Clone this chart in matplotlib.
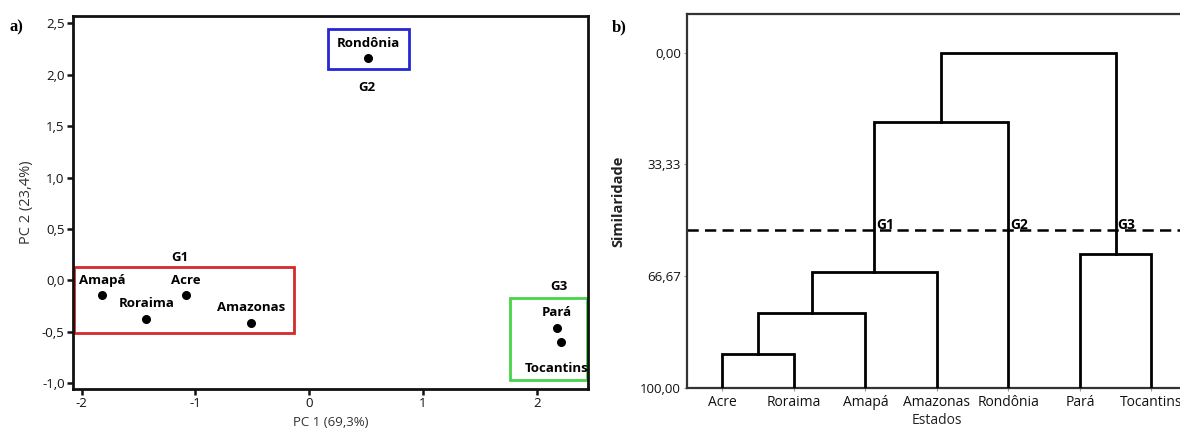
import matplotlib
matplotlib.use("Agg")
import matplotlib.pyplot as plt
from matplotlib.patches import Rectangle

# ---------------- data ----------------
# PCA scores (panel a)
states = ["Rondônia", "Amapá", "Acre", "Roraima", "Amazonas", "Pará", "Tocantins"]
pc1 = [0.518, -1.818, -1.082, -1.432, -0.511, 2.175, 2.212]
pc2 = [2.160, -0.146, -0.146, -0.370, -0.412, -0.460, -0.596]
label_below = ["Tocantins"]

pca_xticks = [-2, -1, 0, 1, 2]
pca_yticks = [-1.0, -0.5, 0.0, 0.5, 1.0, 1.5, 2.0, 2.5]
pca_ytick_labels = ["-1,0", "-0,5", "0,0", "0,5", "1,0", "1,5", "2,0", "2,5"]

# group boxes
group_names = ["G1", "G2", "G3"]
group_x0 = [-2.071, 0.165, 1.761]
group_x1 = [-0.134, 0.881, 2.444]
group_y0 = [-0.515, 2.054, -0.971]
group_y1 = [0.135, 2.445, -0.175]
group_label_x = [-1.136, 0.511, 2.192]
group_label_y = [0.226, 1.879, -0.062]
group_colors = ["#d42a2e", "#2626d6", "#48d448"]

# Dendrogram (panel b)
leaves = ["Acre", "Roraima", "Amapá", "Amazonas", "Rondônia", "Pará", "Tocantins"]
merge_left = [0, 7, 8, 9, 5, 10]
merge_right = [1, 2, 3, 4, 6, 11]
merge_similarity = [89.9, 77.5, 65.5, 20.6, 60.1, 0.0]
cut_level = 52.9
dendro_yticks = [0.0, 33.33, 66.67, 100.0]
dendro_ytick_labels = ["0,00", "33,33", "66,67", "100,00"]
cut_group_names = ["G1", "G2", "G3"]
cut_group_clusters = [9, 4, 11]

# ---------------- figure ----------------
plt.rcParams["font.family"] = ["Open Sans", "DejaVu Sans"]
W, H = 1180, 434
fig = plt.figure(figsize=(W / 100, H / 100), dpi=100)

# ---- panel a ----
ax1 = fig.add_axes([73 / W, 1 - 389 / H, (588 - 73) / W, (389 - 16) / H])
ax1.set_xlim(-2.076, 2.451)
ax1.set_ylim(-1.055, 2.571)
for s in ax1.spines.values():
    s.set_linewidth(2)
    s.set_color("#111111")
ax1.set_xticks(pca_xticks)
ax1.set_xticklabels([str(v) for v in pca_xticks])
ax1.set_yticks(pca_yticks)
ax1.set_yticklabels(pca_ytick_labels)
ax1.tick_params(direction="out", length=4, width=1.8, labelsize=9.5,
                colors="#111111", pad=2)
ax1.set_xlabel("PC 1 (69,3%)", fontsize=9.5, color="#333333", labelpad=4)
ax1.set_ylabel("PC 2 (23,4%)", fontsize=10.5, color="#333333", labelpad=6)

ax1.scatter(pc1, pc2, s=30, color="black", zorder=3)
for name, x, y in zip(states, pc1, pc2):
    if name in label_below:
        ax1.annotate(name, (x, y), xytext=(-3, -19), textcoords="offset points",
                     ha="center", va="center", fontsize=9.5, fontweight="bold")
    else:
        ax1.annotate(name, (x, y), xytext=(0, 11), textcoords="offset points",
                     ha="center", va="center", fontsize=9.5, fontweight="bold")

for g, x0, x1, y0, y1, lx, ly, c in zip(group_names, group_x0, group_x1, group_y0,
                                        group_y1, group_label_x, group_label_y,
                                        group_colors):
    ax1.add_patch(Rectangle((x0, y0), x1 - x0, y1 - y0, fill=False,
                            edgecolor=c, linewidth=2, zorder=2))
    ax1.text(lx, ly, g, ha="center", va="center", fontsize=9.5, fontweight="bold")

fig.text(10 / W, 1 - 27 / H, "a)", family="Liberation Serif", fontweight="bold",
         fontsize=12, ha="left", va="center")

# ---- panel b ----
ax2 = fig.add_axes([686.7 / W, 1 - 388 / H, 500.5 / W, (388 - 14) / H])
ax2.set_xlim(0.5, 7.5)
ax2.set_ylim(100, -11.5)
for s in ax2.spines.values():
    s.set_linewidth(1.6)
    s.set_color("#333333")

n = len(leaves)
pos = {i: (i + 1.0, 100.0) for i in range(n)}
for k, (a, b, h) in enumerate(zip(merge_left, merge_right, merge_similarity)):
    xa, ha_ = pos[a]
    xb, hb = pos[b]
    ax2.plot([xa, xa, xb, xb], [ha_, h, h, hb], color="black", lw=2,
             solid_joinstyle="miter", zorder=3)
    pos[n + k] = ((xa + xb) / 2, h)

ax2.axhline(cut_level, color="black", lw=1.8, dashes=(4.5, 2.5), zorder=2)
for g, c in zip(cut_group_names, cut_group_clusters):
    xg = pos[c][0]
    ax2.text(xg + 0.02, cut_level - 0.3, g, ha="left", va="baseline",
             fontsize=10, fontweight="bold", zorder=4)

ax2.set_xticks(range(1, n + 1))
ax2.set_xticklabels(leaves)
ax2.set_yticks(dendro_yticks)
ax2.set_yticklabels(dendro_ytick_labels)
ax2.tick_params(axis="x", direction="out", length=2, width=0.8, color="#999999",
                labelsize=10, labelcolor="#111111", pad=3)
ax2.tick_params(axis="y", direction="out", length=2, width=0.8, color="#999999",
                labelsize=9.5, labelcolor="#111111", pad=2)
ax2.set_xlabel("Estados", fontsize=10, color="#222222", labelpad=2)
ax2.set_ylabel("Similaridade", fontsize=10.5, fontweight="bold", color="#222222",
               labelpad=11)

fig.text(612 / W, 1 - 27 / H, "b)", family="Liberation Serif", fontweight="bold",
         fontsize=12, ha="left", va="center")

fig.savefig("out.png", dpi=100)
